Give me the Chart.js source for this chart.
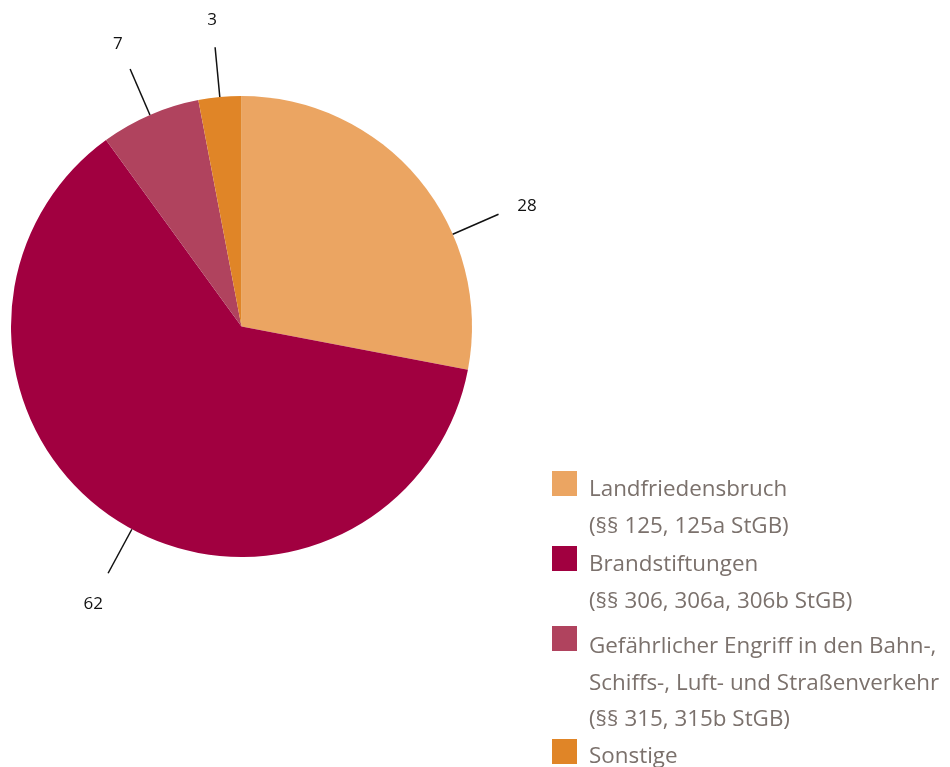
<!DOCTYPE html>
<html>
<head>
<meta charset="utf-8">
<script src="https://cdn.jsdelivr.net/npm/chart.js@4/dist/chart.umd.min.js"></script>
<style>
  html, body { margin: 0; padding: 0; background: #fff; }
  #wrap { position: relative; width: 950px; height: 767px; overflow: hidden; }
  #legend { position: absolute; left: 552px; top: 0; font-family: "Open Sans", sans-serif; font-size: 22.4px; color: #7b716c; }
  .item { position: absolute; left: 0; padding-left: 37px; line-height: 36.5px; white-space: nowrap; }
  .item .box { position: absolute; left: 0; top: 1px; width: 25px; height: 25px; }
  .item:nth-child(1) { top: 470px; }
  .item:nth-child(2) { top: 545px; }
  .item:nth-child(3) { top: 627px; }
  .item:nth-child(4) { top: 737px; }
  .item:nth-child(3) .box { top: -1px; }
  .item:nth-child(4) .box { top: 2px; }
</style>
</head>
<body>
<div id="wrap">
  <canvas id="chart" width="950" height="767"></canvas>
  <div id="legend"></div>
</div>
<script>
// Anteile in Prozent
const categories = [
  'Landfriedensbruch<br>(§§ 125, 125a StGB)',
  'Brandstiftungen<br>(§§ 306, 306a, 306b StGB)',
  'Gefährlicher Engriff in den Bahn-,<br>Schiffs-, Luft- und Straßenverkehr<br>(§§ 315, 315b StGB)',
  'Sonstige'
];
const values = [28, 62, 7, 3];
const colors = ['#eba562', '#a10040', '#b0435e', '#e08527'];
// Verschiebung der Beschriftung gegenüber der Segmentmitte (Grad)
const labelShift = [16, -4, 0, 0];

const leaderLabels = {
  id: 'leaderLabels',
  afterDatasetsDraw(chart) {
    const ctx = chart.ctx;
    const meta = chart.getDatasetMeta(0);
    ctx.save();
    ctx.strokeStyle = '#111';
    ctx.lineWidth = 1.5;
    ctx.fillStyle = '#111';
    ctx.font = '17px "Open Sans", sans-serif';
    ctx.textAlign = 'center';
    ctx.textBaseline = 'middle';
    meta.data.forEach((arc, i) => {
      const a = (arc.startAngle + arc.endAngle) / 2 + labelShift[i] * Math.PI / 180;
      const r = arc.outerRadius;
      const cx = arc.x, cy = arc.y;
      ctx.beginPath();
      ctx.moveTo(cx + Math.cos(a) * r, cy + Math.sin(a) * r);
      ctx.lineTo(cx + Math.cos(a) * (r + 50), cy + Math.sin(a) * (r + 50));
      ctx.stroke();
      ctx.fillText(values[i], cx + Math.cos(a) * (r + 81), cy + Math.sin(a) * (r + 81) + 4);
    });
    ctx.restore();
  }
};

new Chart(document.getElementById('chart'), {
  type: 'pie',
  data: {
    labels: categories,
    datasets: [{
      data: values,
      backgroundColor: colors,
      borderWidth: 0
    }]
  },
  options: {
    responsive: false,
    animation: false,
    layout: { padding: { left: 11, top: 96, right: 478, bottom: 210 } },
    plugins: {
      legend: { display: false },
      tooltip: { enabled: false }
    }
  },
  plugins: [leaderLabels]
});

const legend = document.getElementById('legend');
categories.forEach((c, i) => {
  const d = document.createElement('div');
  d.className = 'item';
  d.innerHTML = '<span class="box" style="background:' + colors[i] + '"></span>' + c;
  legend.appendChild(d);
});
</script>
</body>
</html>
